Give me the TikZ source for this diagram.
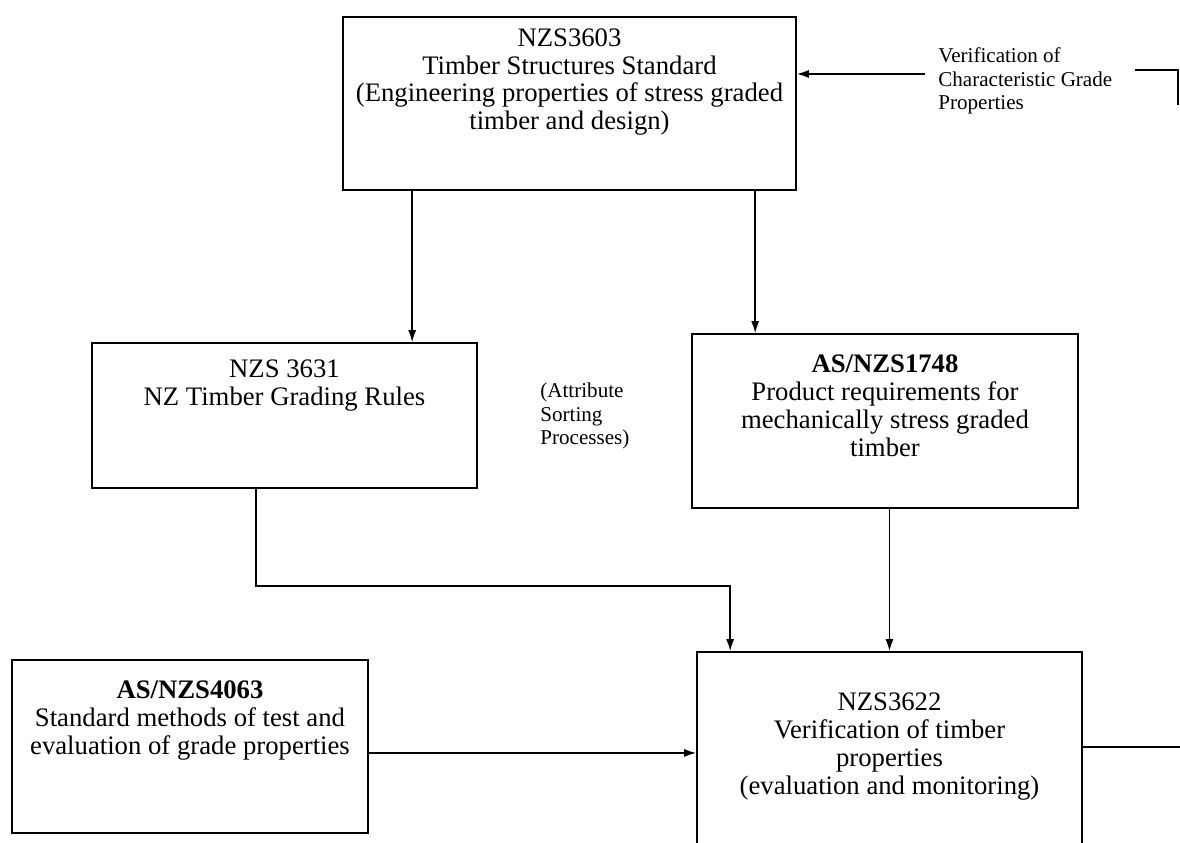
\documentclass[tikz,border=0pt]{standalone}
\usepackage{fontspec}
\setmainfont{Liberation Serif}
\usetikzlibrary{positioning,arrows.meta,calc}

\begin{document}
\begin{tikzpicture}[scale=0.2]
\tikzstyle{every node}+=[inner sep=0pt]
\tikzstyle{stdbox}=[draw=black, line width=0.9pt, rectangle]
\tikzstyle{stdtext}=[align=center, font=\fontsize{15.2}{15.8}\selectfont]
\tikzstyle{sidetext}=[align=left, font=\fontsize{12}{13.5}\selectfont]
\tikzstyle{arr}=[black, line width=0.9pt, -{Latex[length=2.4mm,width=1.6mm]}]
\useasboundingbox (0,0) rectangle (118,-84.3);
\node [stdbox, minimum width=9.06cm, minimum height=3.46cm] (nzs3603) at (56.95,-10.35) {};
\node [stdtext, below=0.24cm of nzs3603.north] (nzs3603t) {NZS3603\\Timber Structures Standard\\(Engineering properties of stress graded\\timber and design)};
\node [stdbox, minimum width=7.7cm, minimum height=2.9cm] (nzs3631) at (28.45,-41.55) {};
\node [stdtext, below=0.35cm of nzs3631.north] (nzs3631t) {NZS 3631\\NZ Timber Grading Rules};
\node [stdbox, minimum width=7.72cm, minimum height=3.48cm] (as1748) at (88.5,-42.1) {};
\node [stdtext, below=0.43cm of as1748.north] (as1748t) {\textbf{AS/NZS1748}\\Product requirements for\\mechanically stress graded\\timber};
\node [stdbox, minimum width=7.12cm, minimum height=3.46cm] (as4063) at (19,-74.65) {};
\node [stdtext, below=0.43cm of as4063.north] (as4063t) {\textbf{AS/NZS4063}\\Standard methods of test and\\evaluation of grade properties};
\node [stdbox, minimum width=7.7cm, minimum height=4.16cm] (nzs3622) at (88.95,-75.6) {};
\node [stdtext, below=0.83cm of nzs3622.north] (nzs3622t) {NZS3622\\Verification of timber\\properties\\(evaluation and monitoring)};
\node [sidetext, anchor=west] (verif) at (93.8,-8.1) {Verification of\\Characteristic Grade\\Properties};
\node [sidetext, anchor=west] (attr) at (54,-41.6) {(Attribute\\Sorting\\Processes)};
% tap points on the boxes
\coordinate (out3603) at ($(nzs3603.south west)+(7,0)$);
\coordinate (in1748) at ($(as1748.north west)+(6.4,0)$);
\coordinate (out3631) at ($(nzs3631.south west)+(16.5,0)$);
\coordinate (in3622) at ($(nzs3622.north west)+(3.4,0)$);
\coordinate (out4063) at ($(as4063.east)+(0,-0.65)$);
\coordinate (out3622) at ($(nzs3622.east)+(0,0.9)$);
% standards feeding down
\draw [arr] (out3603) -- (out3603 |- nzs3631.north);
\draw [arr] (in1748 |- nzs3603.south) -- (in1748);
\coordinate (vin) at (92.5,-7.4);
\draw [arr] (vin) -- (vin -| nzs3603.east);
\coordinate (brk) at (113.5,-7.0);
\draw [black, line width=0.9pt] (brk) -- ++(4.3,0) -- ++(0,-3.5);
% into verification
\draw [arr] (out3631) -- ++(0,-9.7) -| (in3622);
\draw [arr] (nzs3622.north |- as1748.south) -- (nzs3622.north);
\draw [arr] (out4063) -- (out4063 -| nzs3622.west);
\draw [black, line width=0.9pt] (out3622) -- ++(18,0);
\end{tikzpicture}
\end{document}
